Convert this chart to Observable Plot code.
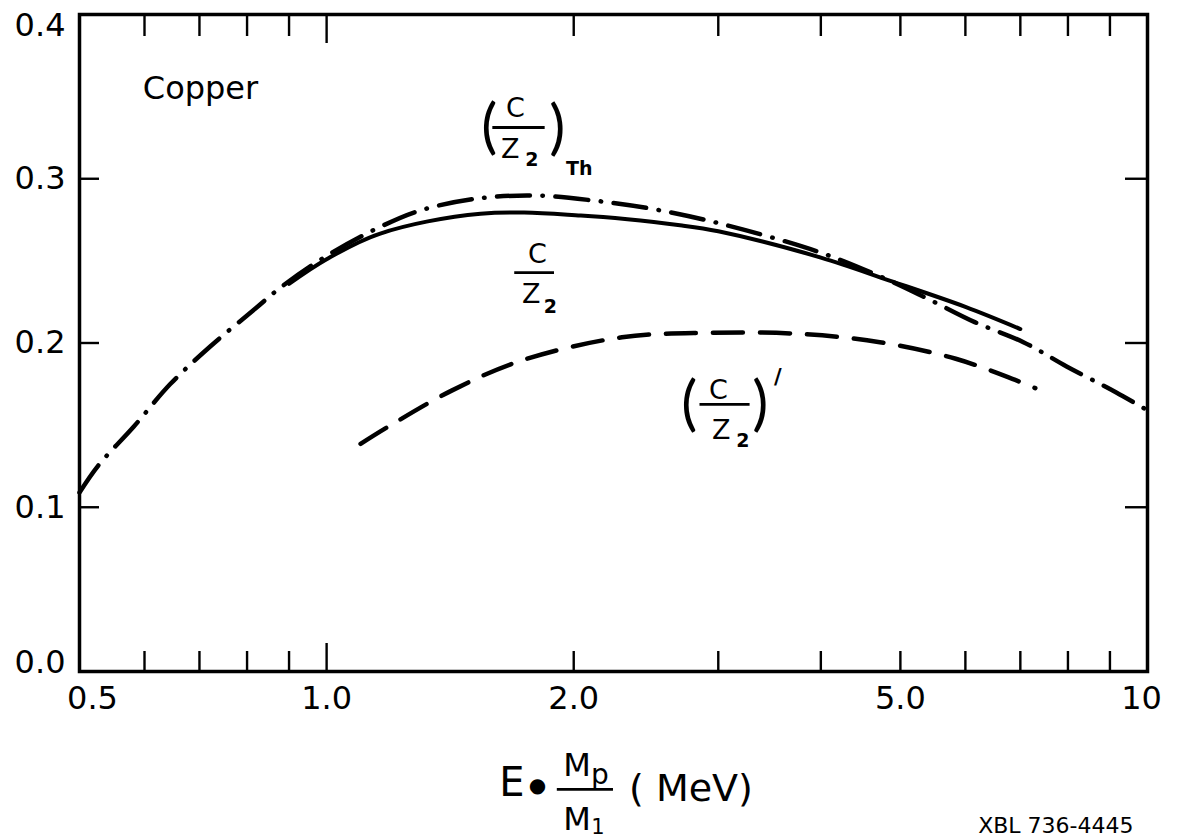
<!DOCTYPE html>
<html>
<head>
<meta charset="utf-8">
<script src="https://cdn.jsdelivr.net/npm/d3@7"></script>
<script src="https://cdn.jsdelivr.net/npm/@observablehq/plot@0.6"></script>
<style>
  html, body { margin: 0; padding: 0; background: #fff; }
  #chart svg { display: block; }
</style>
</head>
<body>
<div id="chart"></div>
<script>
// ---- data (Copper) ----
// (C/Z2)_Th  : dash-dot curve
const thX = [0.5, 0.527, 0.582, 0.645, 0.722, 0.819, 0.88, 1.0, 1.16, 1.3, 1.53, 1.79, 2.11, 2.49, 3.0, 4.0, 4.85, 5.4, 6.16, 7.06, 7.97, 9.15, 10];
const thY = [0.109, 0.1254, 0.149, 0.175, 0.198, 0.221, 0.234, 0.253, 0.2705, 0.2807, 0.288, 0.2898, 0.2868, 0.2817, 0.273, 0.255, 0.238, 0.2269, 0.2127, 0.2005, 0.1857, 0.170, 0.159];
// C/Z2 : solid curve
const solX = [0.9, 1.0, 1.16, 1.54, 2.04, 2.71, 3.0, 4.0, 4.85, 6.0, 7.0];
const solY = [0.236, 0.251, 0.2665, 0.2787, 0.2776, 0.2715, 0.268, 0.252, 0.238, 0.222, 0.2085];
// (C/Z2)' : dashed curve
const dshX = [1.1, 1.19, 1.42, 1.72, 2.29, 2.92, 3.75, 4.72, 5.84, 6.9, 7.3];
const dshY = [0.1386, 0.1492, 0.171, 0.189, 0.2035, 0.2062, 0.2056, 0.2005, 0.1904, 0.1775, 0.1725];

// ---- ticks ----
const xLabelTicks = [0.5, 1, 2, 5, 10];
const xLabelTexts = ["0.5", "1.0", "2.0", "5.0", "10"];
const xMinorTicks = [0.6, 0.7, 0.8, 0.9, 2, 3, 4, 5, 6, 7, 8, 9];
const xLongTicks = [1];
const yTicks = [0.1, 0.2, 0.3];
const yLabelTicks = [0, 0.1, 0.2, 0.3, 0.4];
const yLabelTexts = ["0.0", "0.1", "0.2", "0.3", "0.4"];

const toRows = (xs, ys) => xs.map((x, i) => ({x, y: ys[i]}));
const xFmt = d => xLabelTexts[xLabelTicks.indexOf(d)];
const yFmt = d => yLabelTexts[yLabelTicks.indexOf(d)];

const W = 1180, H = 838;
const mL = 79, mR = 33, mT = 14, mB = 167;
const fW = W - mL - mR, fH = H - mT - mB;
const FONT = "'DejaVu Sans', 'Liberation Sans', sans-serif";
const PAREN = {fontFamily: "Lato, 'DejaVu Sans', sans-serif", fontWeight: 400};

function lab(x, y, text, dx, dy, fontSize, extra = {}) {
  return Plot.text([text], {x, y, text: d => d, dx, dy, fontSize, textAnchor: "middle", lineAnchor: "middle", fill: "black", ...extra});
}
function bar(y, x1, x2, sw = 2.8) {
  return Plot.ruleY([y], {x1, x2, stroke: "black", strokeWidth: sw});
}

// annotation anchors (fraction-bar centres)
const aTh = {x: 1.717, y: 0.3312};
const aC = {x: 1.806, y: 0.2429};
const aP = {x: 3.06, y: 0.1626};
const aT = {x: 2.07, y: -0.0718};

const axOpts = {tickSize: 0, fontSize: 32, label: null};

const chart = Plot.plot({
  width: W, height: H,
  marginLeft: mL, marginRight: mR, marginTop: mT, marginBottom: mB,
  style: {fontFamily: FONT, color: "black", background: "white"},
  x: {type: "log", domain: [0.5, 10]},
  y: {domain: [0, 0.4]},
  marks: [
    // inward ticks
    Plot.ruleX(xMinorTicks, {insetTop: fH - 20, stroke: "black", strokeWidth: 2.4}),
    Plot.ruleX(xMinorTicks, {insetBottom: fH - 22, stroke: "black", strokeWidth: 2.4}),
    Plot.ruleX(xLongTicks, {insetTop: fH - 28, stroke: "black", strokeWidth: 2.4}),
    Plot.ruleX(xLongTicks, {insetBottom: fH - 29, stroke: "black", strokeWidth: 2.4}),
    Plot.ruleY(yTicks, {insetRight: fW - 20, stroke: "black", strokeWidth: 2.4}),
    Plot.ruleY(yTicks, {insetLeft: fW - 22, stroke: "black", strokeWidth: 2.4}),
    Plot.frame({stroke: "black", strokeWidth: 3.5}),
    // tick labels
    Plot.axisX([0.5], {...axOpts, tickFormat: xFmt, tickPadding: 15, dx: 13}),
    Plot.axisX([1, 2, 5], {...axOpts, tickFormat: xFmt, tickPadding: 15}),
    Plot.axisX([10], {...axOpts, tickFormat: xFmt, tickPadding: 15, dx: -6}),
    Plot.axisY([0.1, 0.2, 0.3], {...axOpts, tickFormat: yFmt, tickPadding: 14}),
    Plot.axisY([0.4], {...axOpts, tickFormat: yFmt, tickPadding: 14, dy: 11}),
    Plot.axisY([0], {...axOpts, tickFormat: yFmt, tickPadding: 14, dy: -9}),
    // curves
    Plot.line(toRows(thX, thY), {x: "x", y: "y", curve: "catmull-rom", stroke: "black", strokeWidth: 4.5, strokeLinecap: "round", strokeDasharray: "33,12.5,0.5,12.5"}),
    Plot.line(toRows(solX, solY), {x: "x", y: "y", curve: "catmull-rom", stroke: "black", strokeWidth: 4, strokeLinecap: "round"}),
    Plot.line(toRows(dshX, dshY), {x: "x", y: "y", curve: "catmull-rom", stroke: "black", strokeWidth: 4.5, strokeLinecap: "round", strokeDasharray: "30,17"}),
    // "Copper"
    lab(0.702, 0.3549, "Copper", 0, 0, 32),
    // (C/Z2)_Th
    lab(aTh.x, aTh.y, "(", -30, 0, 60, PAREN),
    lab(aTh.x, aTh.y, "C", -4, -19, 27),
    bar(aTh.y, 1.594, 1.846),
    lab(aTh.x, aTh.y, "Z", -9, 22, 27),
    lab(aTh.x, aTh.y, "2", 12.5, 32, 19, {fontWeight: "bold"}),
    lab(aTh.x, aTh.y, ")", 38, 1, 60, PAREN),
    lab(aTh.x, aTh.y, "Th", 60, 41, 19, {fontWeight: "bold"}),
    // C/Z2
    lab(aC.x, aC.y, "C", 0, -18.5, 27),
    bar(aC.y, 1.695, 1.895),
    lab(aC.x, aC.y, "Z", -6, 21.5, 27),
    lab(aC.x, aC.y, "2", 13, 34, 19, {fontWeight: "bold"}),
    // (C/Z2)'
    lab(aP.x, aP.y, "(", -36, 0, 60, PAREN),
    lab(aP.x, aP.y, "C", -7, -14, 27),
    bar(aP.y, 2.85, 3.28),
    lab(aP.x, aP.y, "Z", -4, 26, 27),
    lab(aP.x, aP.y, "2", 17.5, 36, 19, {fontWeight: "bold"}),
    lab(aP.x, aP.y, ")", 35, 0, 60, PAREN),
    lab(aP.x, aP.y, "/", 52.5, -27, 21, {fontWeight: "bold"}),
    // x-axis title:  E • Mp/M1 ( MeV)
    lab(aT.x, aT.y, "E", -74, -6, 40),
    lab(aT.x, aT.y, "●", -48.5, -4, 20),
    lab(aT.x, aT.y, "M", -9, -23.5, 32),
    lab(aT.x, aT.y, "p", 14, -14, 28),
    bar(aT.y, 1.910, 2.236, 2.8),
    lab(aT.x, aT.y, "M", -9, 30.5, 32),
    lab(aT.x, aT.y, "1", 12, 38, 21),
    lab(aT.x, aT.y, "( MeV)", 105, -1, 38),
    // figure id
    Plot.text(["XBL 736-4445"], {frameAnchor: "bottom-right", dx: -14, dy: 146, textAnchor: "end", lineAnchor: "top", fontSize: 22, fill: "black"})
  ]
});
document.getElementById("chart").append(chart);
</script>
</body>
</html>
